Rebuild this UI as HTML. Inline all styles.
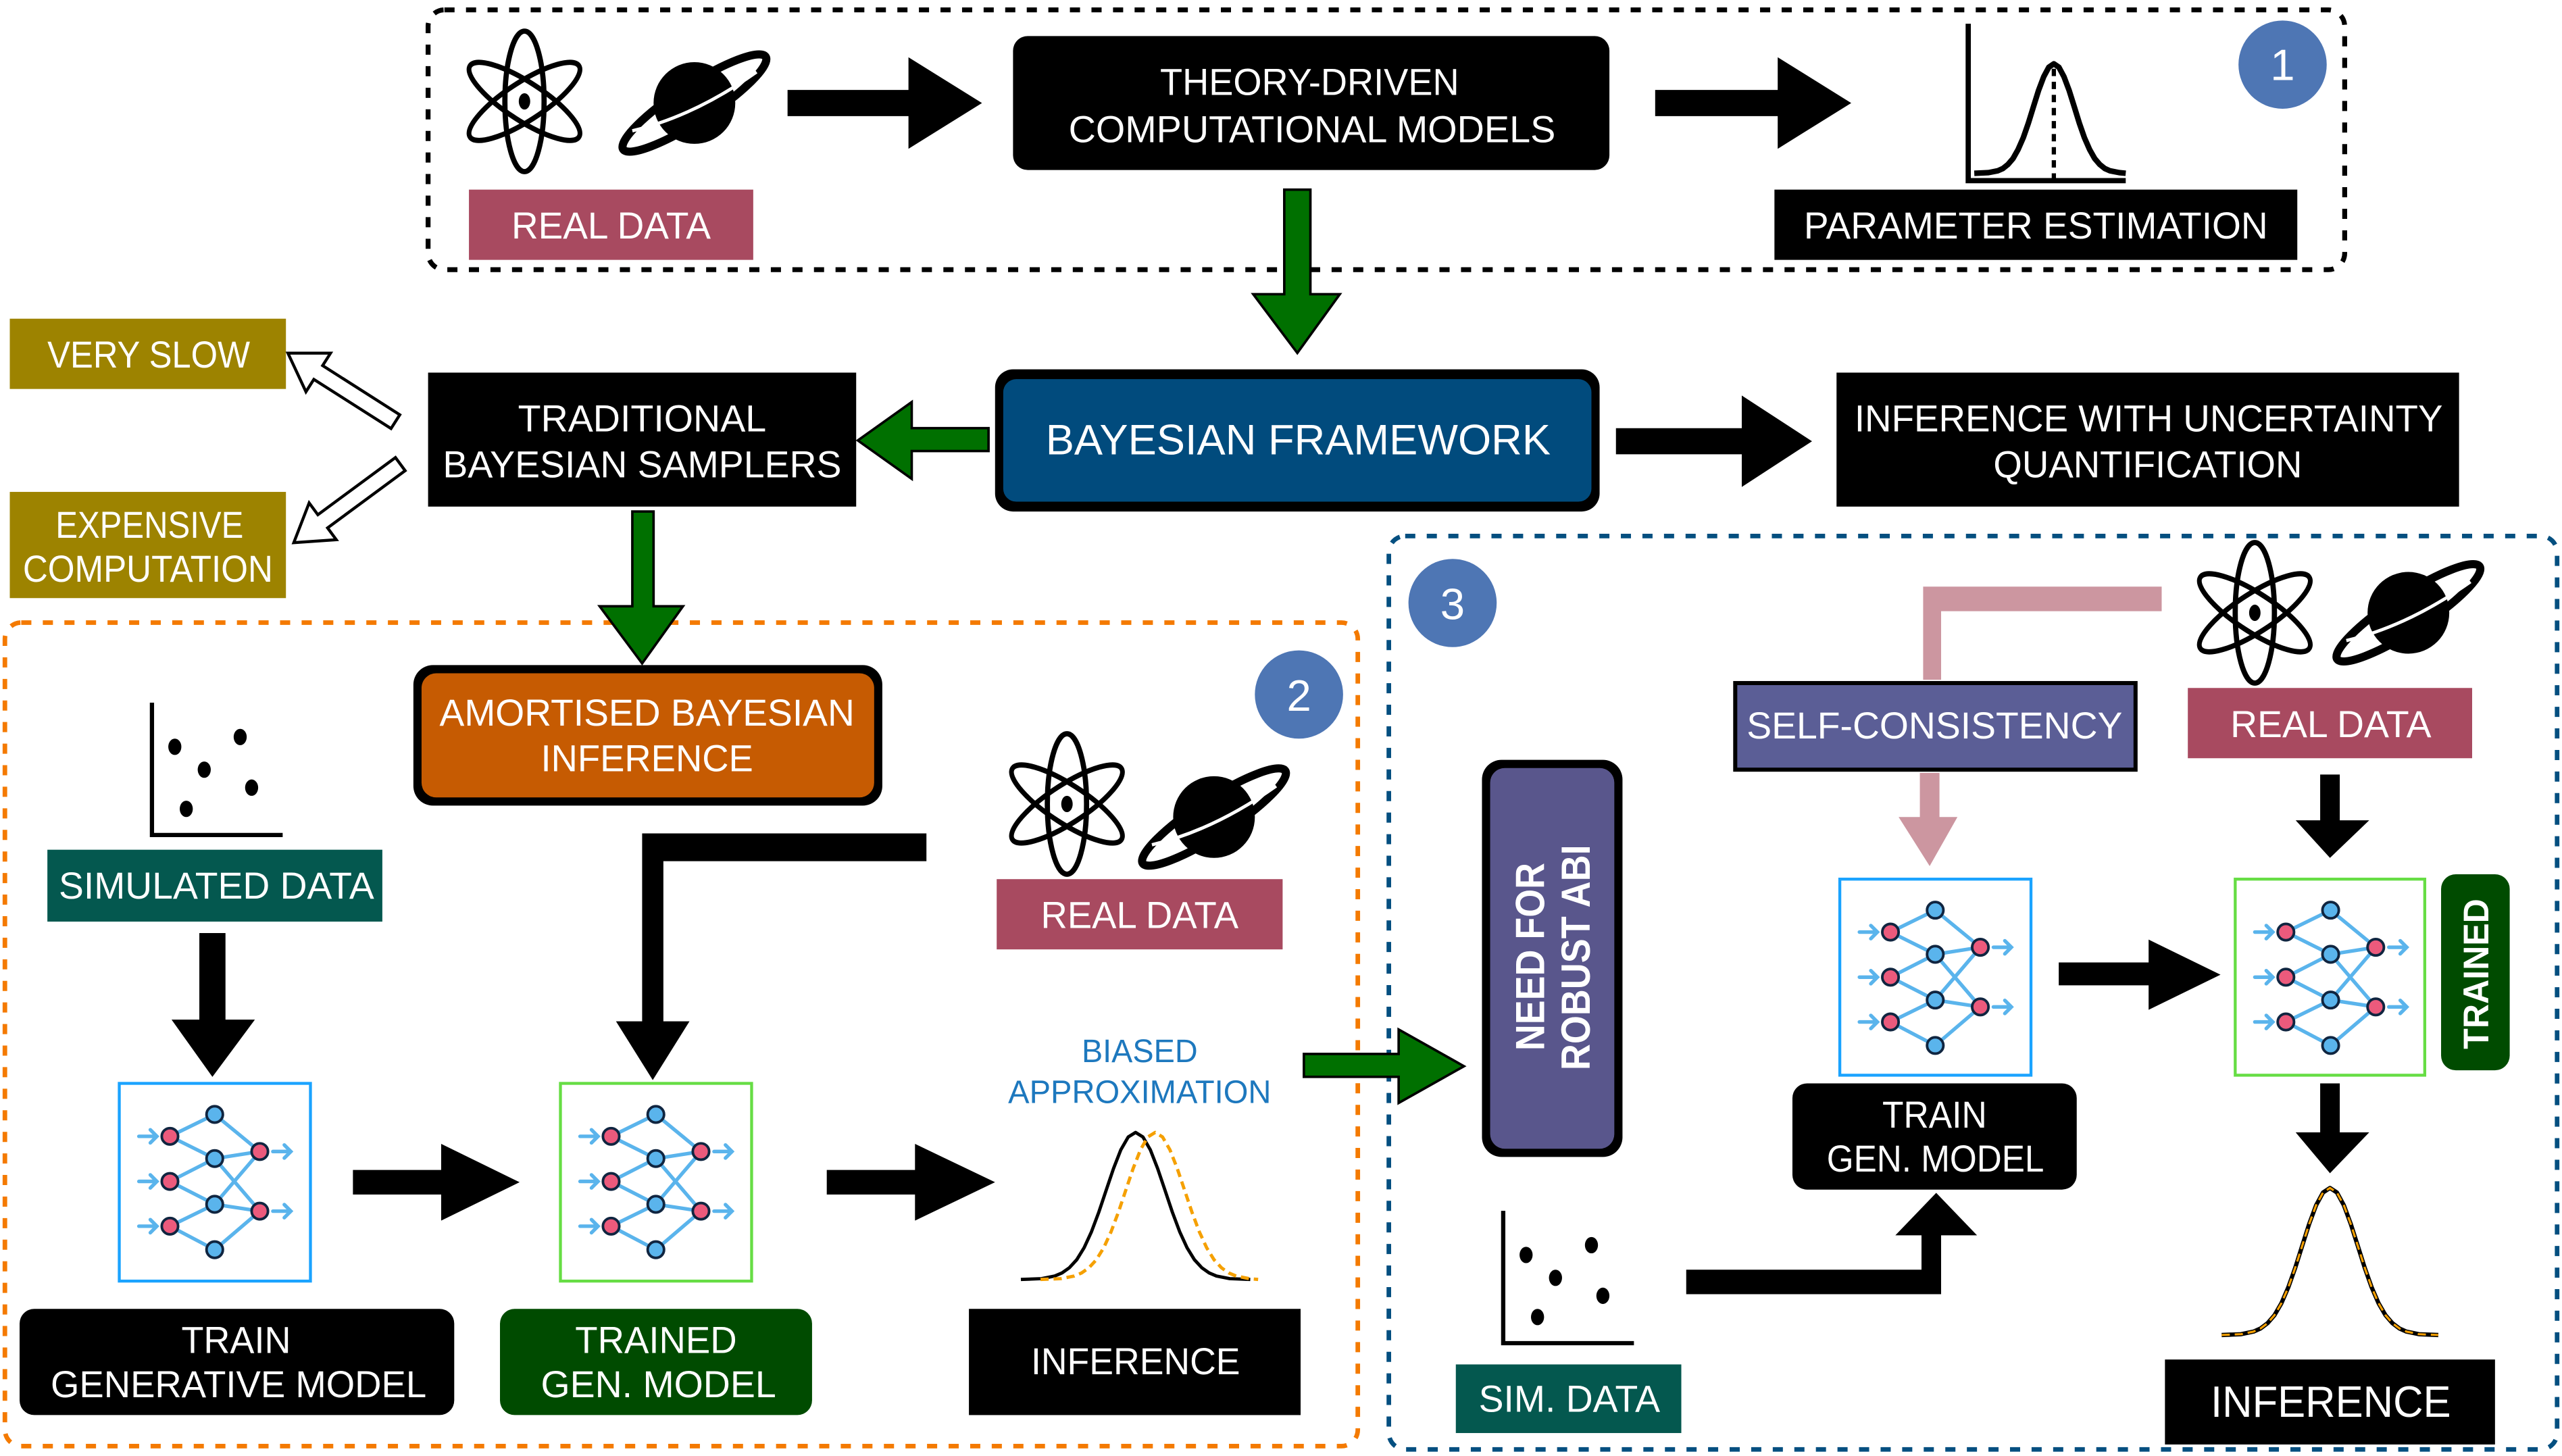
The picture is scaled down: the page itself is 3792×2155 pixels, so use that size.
<!DOCTYPE html>
<html><head><meta charset="utf-8"><style>
html,body{margin:0;padding:0;background:#fff}
svg{display:block}
text{font-family:"Liberation Sans",Arial,sans-serif;fill:#fff}
</style></head><body>
<svg width="3792" height="2155" viewBox="0 0 1568 891" xmlns="http://www.w3.org/2000/svg">
<defs>
<g id="nn">
  <g stroke="#5ab4ec" stroke-width="2.2" stroke-linecap="round" fill="none">
    <line x1="31" y1="32.4" x2="58.4" y2="19"/>
    <line x1="31" y1="32.4" x2="58.4" y2="46"/>
    <line x1="31" y1="60" x2="58.4" y2="46"/>
    <line x1="31" y1="60" x2="58.4" y2="74"/>
    <line x1="31" y1="87.4" x2="58.4" y2="74"/>
    <line x1="31" y1="87.4" x2="58.4" y2="101.8"/>
    <line x1="58.4" y1="19" x2="86" y2="41.7"/>
    <line x1="58.4" y1="46" x2="86" y2="41.7"/>
    <line x1="58.4" y1="46" x2="86" y2="78.2"/>
    <line x1="58.4" y1="74" x2="86" y2="41.7"/>
    <line x1="58.4" y1="74" x2="86" y2="78.2"/>
    <line x1="58.4" y1="101.8" x2="86" y2="78.2"/>
    <path d="M12 32.4H23M19 28.4L23 32.4L19 36.4M12 60H23M19 56L23 60L19 64M12 87.4H23M19 83.4L23 87.4L19 91.4M94 41.7H105M101 37.7L105 41.7L101 45.7M94 78.2H105M101 74.2L105 78.2L101 82.2"/>
  </g>
  <g stroke="#102540" stroke-width="1.6">
    <circle cx="31" cy="32.4" r="5" fill="#ec5a7c"/>
    <circle cx="31" cy="60" r="5" fill="#ec5a7c"/>
    <circle cx="31" cy="87.4" r="5" fill="#ec5a7c"/>
    <circle cx="58.4" cy="19" r="5" fill="#5ab4ec"/>
    <circle cx="58.4" cy="46" r="5" fill="#5ab4ec"/>
    <circle cx="58.4" cy="74" r="5" fill="#5ab4ec"/>
    <circle cx="58.4" cy="101.8" r="5" fill="#5ab4ec"/>
    <circle cx="86" cy="41.7" r="5" fill="#ec5a7c"/>
    <circle cx="86" cy="78.2" r="5" fill="#ec5a7c"/>
  </g>
</g>
<g id="atom">
  <g fill="none" stroke="#000" stroke-width="3.2">
    <ellipse cx="0" cy="0" rx="12" ry="43"/>
    <ellipse cx="0" cy="0" rx="12" ry="43" transform="scale(0.9,1) rotate(60)"/>
    <ellipse cx="0" cy="0" rx="12" ry="43" transform="scale(0.9,1) rotate(-60)"/>
  </g>
  <ellipse cx="0" cy="0" rx="3.5" ry="5" fill="#000"/>
</g>
<g id="saturn">
  <ellipse cx="0" cy="0" rx="52" ry="11" fill="none" stroke="#000" stroke-width="5" transform="rotate(-33)"/>
  <circle cx="0" cy="0" r="25" fill="#000"/>
  <path d="M-38 17 Q0 8 38 -19" fill="none" stroke="#fff" stroke-width="2"/>
</g>
<g id="scatter">
  <path d="M0 0V81H80" fill="none" stroke="#000" stroke-width="2.6"/>
  <ellipse cx="14" cy="27" rx="4" ry="5"/>
  <ellipse cx="54" cy="21" rx="4" ry="5"/>
  <ellipse cx="32" cy="41" rx="4" ry="5"/>
  <ellipse cx="61" cy="52" rx="4" ry="5"/>
  <ellipse cx="21" cy="65" rx="4" ry="5"/>
</g>
</defs>

<!-- Box 1 -->
<rect x="262" y="6" width="1173" height="159" rx="10" fill="none" stroke="#000" stroke-width="3" stroke-dasharray="6.2 7"/>
<use href="#atom" x="321" y="62"/>
<use href="#saturn" x="425" y="63"/>
<rect x="287" y="116" width="174" height="43" fill="#a84a60"/>
<text x="313" y="146" font-size="23" textLength="122" lengthAdjust="spacingAndGlyphs">REAL DATA</text>
<polygon points="482,55 556,55 556,35 601,63 556,91 556,71 482,71" fill="#000"/>
<rect x="620" y="22" width="365" height="82" rx="9" fill="#000"/>
<text x="710" y="58" font-size="23" textLength="183" lengthAdjust="spacingAndGlyphs">THEORY-DRIVEN</text>
<text x="654" y="87" font-size="23" textLength="298" lengthAdjust="spacingAndGlyphs">COMPUTATIONAL MODELS</text>
<polygon points="1013,55 1088,55 1088,35 1133,63 1088,91 1088,71 1013,71" fill="#000"/>
<path d="M1204.6 14.5V110.5H1301" fill="none" stroke="#000" stroke-width="3.2"/>
<polyline fill="none" stroke="#000" stroke-width="3.4" stroke-linejoin="round" points="1208.3,106 1217,105.6 1222.6,104.5 1225.8,103.1 1228.9,100.6 1232,97 1235.1,91.5 1238.3,84.2 1241.4,75.3 1244.5,65.3 1247.6,55.4 1250.8,46.9 1253.9,41.1 1257,39 1260.1,41.1 1263.2,46.9 1266.4,55.4 1269.5,65.3 1272.6,75.3 1275.7,84.2 1278.9,91.5 1282,97 1285.1,100.6 1288.2,103.1 1291.4,104.5 1297,105.6 1301,106"/>
<line x1="1257" y1="42" x2="1257" y2="110" stroke="#000" stroke-width="2.6" stroke-dasharray="4.5 3.5"/>
<rect x="1086" y="116" width="320" height="43" fill="#000"/>
<text x="1104" y="146" font-size="23" textLength="284" lengthAdjust="spacingAndGlyphs">PARAMETER ESTIMATION</text>
<circle cx="1397" cy="39.5" r="27" fill="#4e76b4"/>
<text x="1397" y="49" font-size="27" text-anchor="middle">1</text>

<!-- green down arrow -->
<polygon points="786,116 802,116 802,180 820,180 794,216 767,180 786,180" fill="#007000" stroke="#000" stroke-width="1.5"/>

<!-- Bayesian framework -->
<rect x="609" y="226" width="370" height="87" rx="11" fill="#000"/>
<rect x="614" y="232" width="360" height="75" rx="8" fill="#014b7d"/>
<text x="640" y="278" font-size="26" textLength="309" lengthAdjust="spacingAndGlyphs">BAYESIAN FRAMEWORK</text>
<polygon points="989,262 1066,262 1066,242 1109,270 1066,298 1066,278 989,278" fill="#000"/>
<rect x="1124" y="228" width="381" height="82" fill="#000"/>
<text x="1135" y="264" font-size="23" textLength="360" lengthAdjust="spacingAndGlyphs">INFERENCE WITH UNCERTAINTY</text>
<text x="1220" y="292" font-size="23" textLength="189" lengthAdjust="spacingAndGlyphs">QUANTIFICATION</text>

<!-- traditional -->
<polygon points="605,262 558,262 558,246 525,269.5 558,293 558,276 605,276" fill="#007000" stroke="#000" stroke-width="1.5"/>
<rect x="262" y="228" width="262" height="82" fill="#000"/>
<text x="317" y="264" font-size="23" textLength="152" lengthAdjust="spacingAndGlyphs">TRADITIONAL</text>
<text x="271" y="292" font-size="23" textLength="244" lengthAdjust="spacingAndGlyphs">BAYESIAN SAMPLERS</text>
<rect x="6" y="195" width="169" height="43" fill="#9d8300"/>
<text x="29" y="225" font-size="23" textLength="124" lengthAdjust="spacingAndGlyphs">VERY SLOW</text>
<rect x="6" y="301" width="169" height="65" fill="#9d8300"/>
<text x="34" y="329" font-size="23" textLength="115" lengthAdjust="spacingAndGlyphs">EXPENSIVE</text>
<text x="14" y="356" font-size="23" textLength="153" lengthAdjust="spacingAndGlyphs">COMPUTATION</text>
<polygon points="0,-5 56,-5 56,-14 78,0 56,14 56,5 0,5" fill="#fff" stroke="#000" stroke-width="1.8" transform="translate(242,258) rotate(212.5)"/>
<polygon points="0,-5 59,-5 59,-14 81,0 59,14 59,5 0,5" fill="#fff" stroke="#000" stroke-width="1.8" transform="translate(245,284) rotate(143.6)"/>

<!-- Box 2 -->
<rect x="3" y="381" width="828" height="504" rx="10" fill="none" stroke="#f47a00" stroke-width="2.8" stroke-dasharray="6.2 7"/>
<polygon points="387,313 400,313 400,371 418,371 393,406 367,371 387,371" fill="#007000" stroke="#000" stroke-width="1.5"/>
<rect x="253" y="407" width="287" height="86" rx="12" fill="#000"/>
<rect x="258" y="412" width="277" height="76" rx="9" fill="#c65b02"/>
<text x="269" y="444" font-size="23" textLength="254" lengthAdjust="spacingAndGlyphs">AMORTISED BAYESIAN</text>
<text x="331" y="472" font-size="23" textLength="130" lengthAdjust="spacingAndGlyphs">INFERENCE</text>
<circle cx="795" cy="425" r="27" fill="#4e76b4"/>
<text x="795" y="435" font-size="27" text-anchor="middle">2</text>
<use href="#scatter" x="93" y="430"/>
<rect x="29" y="520" width="205" height="44" fill="#04584f"/>
<text x="36" y="550" font-size="23" textLength="193" lengthAdjust="spacingAndGlyphs">SIMULATED DATA</text>
<polygon points="122,571 138,571 138,624 156,624 130,659 105,624 122,624" fill="#000"/>
<rect x="73" y="663" width="117" height="121" fill="#fff" stroke="#1aa3ff" stroke-width="1.8"/>
<use href="#nn" x="73" y="663"/>
<polygon points="216,716 270,716 270,700 318,723.5 270,747 270,731 216,731" fill="#000"/>
<rect x="343" y="663" width="117" height="121" fill="#fff" stroke="#66dd44" stroke-width="1.8"/>
<use href="#nn" x="343" y="663"/>
<polygon points="506,716 560,716 560,700 609,723.5 560,747 560,731 506,731" fill="#000"/>
<polygon points="567,510 393,510 393,625 377,625 399.5,661 422,625 406,625 406,527 567,527" fill="#000"/>
<use href="#atom" x="653" y="492"/>
<use href="#saturn" x="743" y="500"/>
<rect x="610" y="538" width="175" height="43" fill="#a84a60"/>
<text x="637" y="568" font-size="23" textLength="121" lengthAdjust="spacingAndGlyphs">REAL DATA</text>
<text x="662" y="650" font-size="20" textLength="71" lengthAdjust="spacingAndGlyphs" style="fill:#1d78be">BIASED</text>
<text x="617" y="675" font-size="20" textLength="161" lengthAdjust="spacingAndGlyphs" style="fill:#1d78be">APPROXIMATION</text>
<polyline fill="none" stroke="#000" stroke-width="2" stroke-linejoin="round" points="624.8,783 637.4,782.5 645.5,780.9 650,779 654.5,775.8 659,770.9 663.5,763.6 668,753.8 672.5,741.8 677,728.4 681.5,715.1 686,703.6 690.5,695.8 695,693 699.5,695.8 704,703.6 708.5,715.1 713,728.4 717.5,741.8 722,753.8 726.5,763.6 731,770.9 735.5,775.8 740,779 744.5,780.9 752.6,782.5 765.2,783"/>
<polyline fill="none" stroke="#f5a000" stroke-width="2" stroke-dasharray="5 3" stroke-linejoin="round" points="636.8,783 649.4,782.5 657.5,780.9 662,779 666.5,775.8 671,770.9 675.5,763.6 680,753.8 684.5,741.8 689,728.4 693.5,715.1 698,703.6 702.5,695.8 707,693 711.5,695.8 716,703.6 720.5,715.1 725,728.4 729.5,741.8 734,753.8 738.5,763.6 743,770.9 747.5,775.8 752,779 756.5,780.9 764.6,782.5 770,783"/>
<rect x="12" y="801" width="266" height="65" rx="9" fill="#000"/>
<text x="111" y="828" font-size="23" textLength="67" lengthAdjust="spacingAndGlyphs">TRAIN</text>
<text x="31" y="855" font-size="23" textLength="230" lengthAdjust="spacingAndGlyphs">GENERATIVE MODEL</text>
<rect x="306" y="801" width="191" height="65" rx="9" fill="#004b00"/>
<text x="352" y="828" font-size="23" textLength="99" lengthAdjust="spacingAndGlyphs">TRAINED</text>
<text x="331" y="855" font-size="23" textLength="144" lengthAdjust="spacingAndGlyphs">GEN. MODEL</text>
<rect x="593" y="801" width="203" height="65" fill="#000"/>
<text x="631" y="841" font-size="23" textLength="128" lengthAdjust="spacingAndGlyphs">INFERENCE</text>

<!-- Box 3 -->
<rect x="850" y="328" width="715" height="559" rx="10" fill="none" stroke="#044f80" stroke-width="2.8" stroke-dasharray="6.2 7"/>
<circle cx="889" cy="369" r="27" fill="#4e76b4"/>
<text x="889" y="379" font-size="27" text-anchor="middle">3</text>
<polygon points="798,645 856,645 856,630 896,652.5 856,675 856,659 798,659" fill="#007000" stroke="#000" stroke-width="1.5"/>
<rect x="907" y="465" width="86" height="243" rx="12" fill="#000"/>
<rect x="912" y="470" width="76" height="233" rx="9" fill="#59568c"/>
<text transform="translate(945,643) rotate(-90)" font-size="25" font-weight="bold" textLength="115" lengthAdjust="spacingAndGlyphs">NEED FOR</text>
<text transform="translate(973,655) rotate(-90)" font-size="25" font-weight="bold" textLength="138" lengthAdjust="spacingAndGlyphs">ROBUST ABI</text>
<polygon points="1323,359 1177,359 1177,416 1188,416 1188,374 1323,374" fill="#cc96a0"/>
<rect x="1062" y="418" width="245" height="53" fill="#5b5e96" stroke="#000" stroke-width="2.5"/>
<text x="1069" y="452" font-size="23" textLength="230" lengthAdjust="spacingAndGlyphs">SELF-CONSISTENCY</text>
<polygon points="1175,473 1187,473 1187,500 1198,500 1181,530 1162,500 1175,500" fill="#cc96a0"/>
<use href="#atom" x="1380" y="375"/>
<use href="#saturn" x="1474" y="375"/>
<rect x="1339" y="421" width="174" height="43" fill="#a84a60"/>
<text x="1365" y="451" font-size="23" textLength="123" lengthAdjust="spacingAndGlyphs">REAL DATA</text>
<polygon points="1420,474 1432,474 1432,502 1450,502 1426,525 1405,502 1420,502" fill="#000"/>
<rect x="1126" y="538" width="117" height="120" fill="#fff" stroke="#1aa3ff" stroke-width="1.8"/>
<use href="#nn" x="1126" y="538"/>
<polygon points="1260,589 1315,589 1315,575 1359,596.5 1315,618 1315,603 1260,603" fill="#000"/>
<rect x="1368" y="538" width="116" height="120" fill="#fff" stroke="#66dd44" stroke-width="1.8"/>
<use href="#nn" x="1368" y="538"/>
<rect x="1494" y="535" width="42" height="120" rx="9" fill="#004b00"/>
<text transform="translate(1523,642) rotate(-90)" font-size="22" font-weight="bold" textLength="92" lengthAdjust="spacingAndGlyphs">TRAINED</text>
<polygon points="1420,663 1432,663 1432,693 1450,693 1426,718 1405,693 1420,693" fill="#000"/>
<polyline fill="none" stroke="#000" stroke-width="2.6" stroke-linejoin="round" points="1359.7,817 1371.6,816.5 1379.25,814.9 1383.5,813 1387.75,809.8 1392,804.9 1396.25,797.6 1400.5,787.8 1404.75,775.8 1409,762.4 1413.25,749.1 1417.5,737.6 1421.75,729.8 1426,727 1430.25,729.8 1434.5,737.6 1438.75,749.1 1443,762.4 1447.25,775.8 1451.5,787.8 1455.75,797.6 1460,804.9 1464.25,809.8 1468.5,813 1472.75,814.9 1480.4,816.5 1492.3,817"/>
<polyline fill="none" stroke="#f5a000" stroke-width="1.3" stroke-dasharray="5 3" stroke-linejoin="round" points="1359.7,817 1371.6,816.5 1379.25,814.9 1383.5,813 1387.75,809.8 1392,804.9 1396.25,797.6 1400.5,787.8 1404.75,775.8 1409,762.4 1413.25,749.1 1417.5,737.6 1421.75,729.8 1426,727 1430.25,729.8 1434.5,737.6 1438.75,749.1 1443,762.4 1447.25,775.8 1451.5,787.8 1455.75,797.6 1460,804.9 1464.25,809.8 1468.5,813 1472.75,814.9 1480.4,816.5 1492.3,817"/>
<rect x="1325" y="832" width="202" height="52" fill="#000"/>
<text x="1353" y="867" font-size="27" textLength="147" lengthAdjust="spacingAndGlyphs">INFERENCE</text>
<rect x="1097" y="663" width="174" height="65" rx="9" fill="#000"/>
<text x="1152" y="690" font-size="23" textLength="64" lengthAdjust="spacingAndGlyphs">TRAIN</text>
<text x="1118" y="717" font-size="23" textLength="133" lengthAdjust="spacingAndGlyphs">GEN. MODEL</text>
<polygon points="1032,777 1176,777 1176,756 1160,756 1185,730 1210,756 1188,756 1188,792 1032,792" fill="#000"/>
<use href="#scatter" x="920" y="741"/>
<rect x="891" y="835" width="138" height="42" fill="#04584f"/>
<text x="905" y="864" font-size="23" textLength="111" lengthAdjust="spacingAndGlyphs">SIM. DATA</text>
</svg>
</body></html>
